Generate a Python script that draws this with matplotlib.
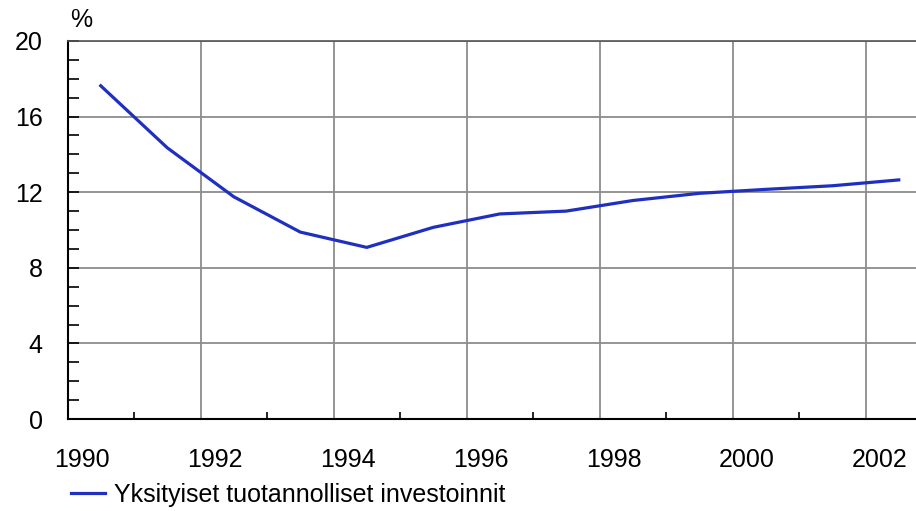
#!/usr/bin/env python3
import matplotlib

matplotlib.use("Agg")
import matplotlib.pyplot as plt
from matplotlib.ticker import MultipleLocator
from matplotlib.transforms import ScaledTranslation

plt.rcParams["font.family"] = ["Liberation Sans", "DejaVu Sans"]

YEARS = [1990.5, 1991.5, 1992.5, 1993.5, 1994.5, 1995.5, 1996.5,
         1997.5, 1998.5, 1999.5, 2000.5, 2001.5, 2002.5]
VALUES = [17.63, 14.35, 11.76, 9.89, 9.08, 10.14, 10.85,
          11.0, 11.56, 11.94, 12.15, 12.34, 12.65]
SERIES_LABEL = "Yksityiset tuotannolliset investoinnit"
X_TICKS = [1990, 1992, 1994, 1996, 1998, 2000, 2002]
Y_TICKS = [0, 4, 8, 12, 16, 20]

LINE_COLOR = "#1f2fc0"
GRID_COLOR = "#8c8c8c"
FONT_SIZE = 18

fig = plt.figure(figsize=(9.16, 5.11), dpi=100)
ax = fig.add_axes([67.5 / 916, 1 - 419 / 511, 1 - 67.5 / 916, (419 - 41) / 511])

ax.plot(YEARS, VALUES, color=LINE_COLOR, linewidth=2.3, label=SERIES_LABEL,
        solid_joinstyle="round", clip_on=False)

ax.set_xlim(1990, 1990 + (916 - 67.5) / 66.5)
ax.set_ylim(0, 20)
ax.set_xticks(X_TICKS)
ax.set_yticks(Y_TICKS)
ax.xaxis.set_minor_locator(MultipleLocator(1))
ax.yaxis.set_minor_locator(MultipleLocator(1))

ax.grid(True, which="major", color=GRID_COLOR, linewidth=1.3)
ax.set_axisbelow(True)

ax.tick_params(axis="both", which="both", direction="in", color="black",
               labelsize=FONT_SIZE)
ax.tick_params(axis="x", which="major", length=0, pad=21)
ax.tick_params(axis="x", which="minor", length=5, width=1.2)
ax.tick_params(axis="y", which="major", length=8, width=1.2, pad=18)
ax.tick_params(axis="y", which="minor", length=8, width=1.2)

# year labels sit a bit to the right of their gridlines in the original
shift = ScaledTranslation(14 / 100, 0, fig.dpi_scale_trans)
for label in ax.get_xticklabels():
    label.set_transform(label.get_transform() + shift)

ax.spines["right"].set_visible(False)
ax.spines["top"].set_color("#555555")
ax.spines["top"].set_linewidth(1.2)
ax.spines["left"].set_linewidth(1.5)
ax.spines["bottom"].set_linewidth(1.5)

fig.text(70 / 916, 1 - 20 / 511, "%", fontsize=FONT_SIZE, ha="left", va="center")

fig.legend(loc="center left", bbox_to_anchor=(71 / 916, 1 - 495 / 511),
           frameon=False, fontsize=FONT_SIZE, handlelength=1.35,
           handletextpad=0.35, borderpad=0, borderaxespad=0)

fig.savefig("out.png", dpi=100)
plt.close(fig)
